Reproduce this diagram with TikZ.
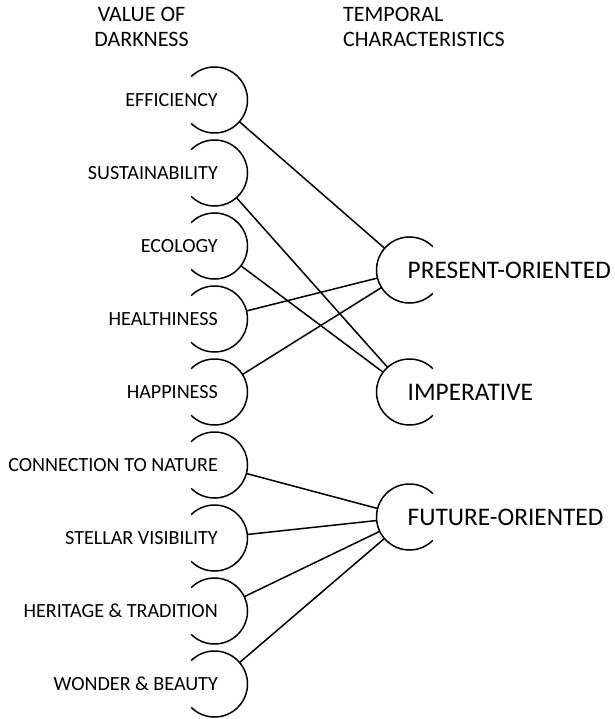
\documentclass[tikz,border=0pt]{standalone}
\usepackage{fontspec}
\setmainfont{Carlito}
\begin{document}
\begin{tikzpicture}[x=1pt,y=-1pt,
  ring/.style={circle,minimum size=66pt,inner sep=0pt,outer sep=0pt},
  valtext/.style={anchor=east,inner sep=0pt,font=\fontsize{20.1}{24}\selectfont},
  timetext/.style={anchor=west,inner sep=0pt,font=\fontsize{25.3}{30}\selectfont},
  headtext/.style={inner sep=0pt,font=\fontsize{22}{25}\selectfont},
  rim/.style={line width=1.5pt},
  link/.style={line width=1.5pt}]
\useasboundingbox (0,0) rectangle (614,719);
% headings
\node[headtext,align=center] (valhead) at (141.5,27) {VALUE OF\\DARKNESS};
\node[headtext,align=left,anchor=west] (timehead) at (343,27) {TEMPORAL\\CHARACTERISTICS};
% values of darkness
\foreach \n/\y/\t in {eff/100/EFFICIENCY,sus/173/SUSTAINABILITY,eco/246/ECOLOGY,
    hea/319/HEALTHINESS,hap/392/HAPPINESS,con/465/CONNECTION TO NATURE,
    ste/538/STELLAR VISIBILITY,her/611/HERITAGE \& TRADITION,won/684/WONDER \& BEAUTY}{
  \node[ring] (\n) at (214.5,\y) {};
  \node[valtext] (\n-t) at (218,\y) {\t};
  \draw[rim] (\n.135) arc[start angle=135,end angle=-135,radius=33pt];
}
% temporal characteristics
\foreach \n/\y/\t in {pre/270/PRESENT-ORIENTED,imp/392/IMPERATIVE,fut/517/FUTURE-ORIENTED}{
  \node[ring] (\n) at (409.5,\y) {};
  \node[timetext] (\n-t) at (407.5,\y) {\t};
  \draw[rim] (\n.45) arc[start angle=45,end angle=315,radius=33pt];
}
% links
\foreach \a/\b in {eff/pre,sus/imp,eco/imp,hea/pre,hap/pre,con/fut,ste/fut,her/fut,won/fut}
  \draw[link] (\a) -- (\b);
\end{tikzpicture}
\end{document}
